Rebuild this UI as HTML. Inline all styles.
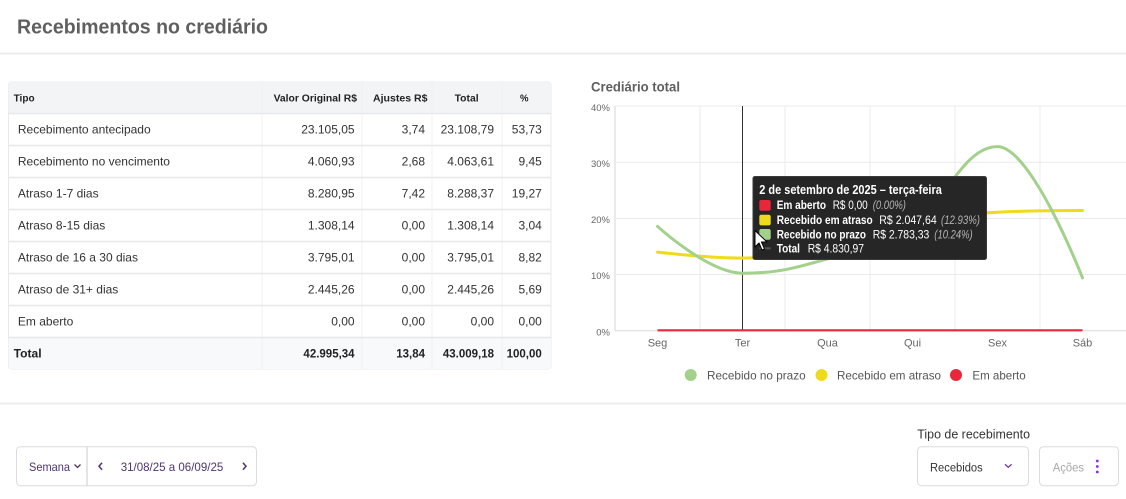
<!DOCTYPE html>
<html><head><meta charset="utf-8"><style>
html,body{margin:0;padding:0;background:#fff;}
svg{display:block;}
text{font-family:"Liberation Sans",Arial,sans-serif;}
</style></head><body>
<svg width="1126" height="499" viewBox="0 0 1126 499" xmlns="http://www.w3.org/2000/svg">
<rect width="1126" height="499" fill="#fff"/>
<!-- header -->
<text x="17" y="33.5" font-size="20.5" font-weight="bold" fill="#5f5f5f" textLength="251" lengthAdjust="spacingAndGlyphs">Recebimentos no crediário</text>
<rect x="0" y="52.5" width="1126" height="2" fill="#ececec"/>

<!-- table -->
<rect x="8.5" y="82" width="542.5" height="287" rx="3" fill="#fff" stroke="#e6e8eb"/>
<path d="M8.5,113.3 V85 a3,3 0 0 1 3,-3 H548 a3,3 0 0 1 3,3 V113.3 Z" fill="#f3f4f6"/>
<path d="M8.5,337.3 V366 a3,3 0 0 0 3,3 H548 a3,3 0 0 0 3,-3 V337.3 Z" fill="#f8f9fa"/>
<g stroke="#f0f0f0" stroke-width="1">
<line x1="262" y1="82" x2="262" y2="369"/><line x1="362" y1="82" x2="362" y2="369"/>
<line x1="432" y1="82" x2="432" y2="369"/><line x1="502" y1="82" x2="502" y2="369"/>
</g>
<g stroke="#e7e8ea" stroke-width="1.6">
<line x1="8.5" y1="113.5" x2="551" y2="113.5"/><line x1="8.5" y1="145.5" x2="551" y2="145.5"/>
<line x1="8.5" y1="177.5" x2="551" y2="177.5"/><line x1="8.5" y1="209.5" x2="551" y2="209.5"/>
<line x1="8.5" y1="241.5" x2="551" y2="241.5"/><line x1="8.5" y1="273.5" x2="551" y2="273.5"/>
<line x1="8.5" y1="305.5" x2="551" y2="305.5"/><line x1="8.5" y1="337.5" x2="551" y2="337.5"/>
</g>
<g font-size="10.5" font-weight="bold" fill="#222">
<text x="13.6" y="101.6" textLength="21" lengthAdjust="spacingAndGlyphs">Tipo</text>
<text x="273.6" y="101.6" textLength="83.4" lengthAdjust="spacingAndGlyphs">Valor Original R$</text>
<text x="373" y="101.6" textLength="54.5" lengthAdjust="spacingAndGlyphs">Ajustes R$</text>
<text x="454.6" y="101.6" textLength="24" lengthAdjust="spacingAndGlyphs">Total</text>
<text x="520" y="101.6" textLength="8.5" lengthAdjust="spacingAndGlyphs">%</text>
</g>
<g font-size="12" fill="#333">
<text x="17.9" y="133.6">Recebimento antecipado</text>
<text x="17.9" y="165.6">Recebimento no vencimento</text>
<text x="17.9" y="197.6">Atraso 1-7 dias</text>
<text x="17.9" y="229.6">Atraso 8-15 dias</text>
<text x="17.9" y="261.6">Atraso de 16 a 30 dias</text>
<text x="17.9" y="293.6">Atraso de 31+ dias</text>
<text x="17.9" y="325.6">Em aberto</text>
</g>
<g font-size="12" fill="#333" text-anchor="end">
<text x="354.6" y="133.6">23.105,05</text><text x="425" y="133.6">3,74</text><text x="494" y="133.6">23.108,79</text><text x="541.8" y="133.6">53,73</text>
<text x="354.6" y="165.6">4.060,93</text><text x="425" y="165.6">2,68</text><text x="494" y="165.6">4.063,61</text><text x="541.8" y="165.6">9,45</text>
<text x="354.6" y="197.6">8.280,95</text><text x="425" y="197.6">7,42</text><text x="494" y="197.6">8.288,37</text><text x="541.8" y="197.6">19,27</text>
<text x="354.6" y="229.6">1.308,14</text><text x="425" y="229.6">0,00</text><text x="494" y="229.6">1.308,14</text><text x="541.8" y="229.6">3,04</text>
<text x="354.6" y="261.6">3.795,01</text><text x="425" y="261.6">0,00</text><text x="494" y="261.6">3.795,01</text><text x="541.8" y="261.6">8,82</text>
<text x="354.6" y="293.6">2.445,26</text><text x="425" y="293.6">0,00</text><text x="494" y="293.6">2.445,26</text><text x="541.8" y="293.6">5,69</text>
<text x="354.6" y="325.6">0,00</text><text x="425" y="325.6">0,00</text><text x="494" y="325.6">0,00</text><text x="541.8" y="325.6">0,00</text>
</g>
<g font-size="11.5" font-weight="bold" fill="#222">
<text x="13.6" y="357.4" textLength="28" lengthAdjust="spacingAndGlyphs">Total</text>
<g text-anchor="end">
<text x="354.6" y="357.4">42.995,34</text><text x="425" y="357.4">13,84</text><text x="494" y="357.4">43.009,18</text><text x="541.8" y="357.4">100,00</text>
</g></g>

<!-- chart -->
<text x="591" y="91.5" font-size="13.5" font-weight="bold" fill="#5f5f5f" textLength="89" lengthAdjust="spacingAndGlyphs">Crediário total</text>
<g stroke="#ebebeb" stroke-width="1">
<line x1="615" y1="106" x2="1126" y2="106"/><line x1="615" y1="162.3" x2="1126" y2="162.3"/>
<line x1="615" y1="218.5" x2="1126" y2="218.5"/><line x1="615" y1="274.5" x2="1126" y2="274.5"/>
<line x1="700" y1="106" x2="700" y2="331"/><line x1="785" y1="106" x2="785" y2="331"/>
<line x1="870" y1="106" x2="870" y2="331"/><line x1="955" y1="106" x2="955" y2="331"/>
<line x1="1040" y1="106" x2="1040" y2="331"/>
</g>
<line x1="615" y1="106" x2="615" y2="331" stroke="#e3e3e3" stroke-width="1.5"/>
<line x1="615" y1="330.6" x2="1126" y2="330.6" stroke="#e3e3e3" stroke-width="1.5"/>
<g font-size="9.5" fill="#666" text-anchor="end">
<text x="610" y="111">40%</text><text x="610" y="167">30%</text><text x="610" y="223">20%</text><text x="610" y="279">10%</text><text x="610" y="335.5">0%</text>
</g>
<g font-size="11" fill="#666" text-anchor="middle">
<text x="657.5" y="346.7">Seg</text><text x="742.5" y="346.7">Ter</text><text x="827.5" y="346.7">Qua</text>
<text x="912.5" y="346.7">Qui</text><text x="997.5" y="346.7">Sex</text><text x="1082.5" y="346.7">Sáb</text>
</g>
<line x1="742.5" y1="106" x2="742.5" y2="331" stroke="#333" stroke-width="1"/>
<path d="M657.5,252.1 C657.5,252.1 708.5,258.1 742.5,258.1 C776.5,258.1 793.5,251.0 827.5,243.6 C861.5,236.2 878.5,227.5 912.5,221.2 C946.5,214.9 963.5,213.9 997.5,212.2 C1031.5,210.5 1082.5,210.5 1082.5,210.5" fill="none" stroke="#eedc1c" stroke-width="3" stroke-linecap="round"/>
<path d="M657.5,226.3 C657.5,226.3 708.5,273.2 742.5,273.2 C776.5,273.2 793.5,268.6 827.5,258.8 C861.5,249.0 878.5,246.4 912.5,224.0 C946.5,201.6 963.5,146.6 997.5,146.6 C1031.5,146.6 1082.5,277.9 1082.5,277.9" fill="none" stroke="#a3d18c" stroke-width="3" stroke-linecap="round"/>
<line x1="657.5" y1="330.3" x2="1082.5" y2="330.3" stroke="#e8273a" stroke-width="2.2"/>

<!-- tooltip -->
<rect x="753" y="176.5" width="233.5" height="83" rx="2" fill="#262626" stroke="#3a3a3a" stroke-width="1"/>
<text x="759.3" y="194" font-size="12.5" font-weight="bold" fill="#fff" textLength="182.5" lengthAdjust="spacingAndGlyphs">2 de setembro de 2025 – terça-feira</text>
<rect x="759.3" y="200" width="11.4" height="10.7" rx="2" fill="#e8273a"/>
<rect x="759.3" y="214.7" width="11.4" height="10.7" rx="2" fill="#eedc1c"/>
<rect x="759.3" y="229" width="11.4" height="10.7" rx="2" fill="#a3d18c"/>
<line x1="759.3" y1="248.3" x2="770.7" y2="248.3" stroke="#555" stroke-width="2"/>
<g font-size="11.5" fill="#fff">
<text x="776.7" y="209.2" font-weight="bold" textLength="49.3" lengthAdjust="spacingAndGlyphs">Em aberto</text>
<text x="832.7" y="209.2" textLength="35" lengthAdjust="spacingAndGlyphs">R$ 0,00</text>
<text x="872.7" y="209.2" fill="#b5b5b5" font-style="italic" textLength="33.3" lengthAdjust="spacingAndGlyphs">(0.00%)</text>
<text x="776.7" y="224" font-weight="bold" textLength="96" lengthAdjust="spacingAndGlyphs">Recebido em atraso</text>
<text x="879.3" y="224" textLength="57.4" lengthAdjust="spacingAndGlyphs">R$ 2.047,64</text>
<text x="941" y="224" fill="#b5b5b5" font-style="italic" textLength="39" lengthAdjust="spacingAndGlyphs">(12.93%)</text>
<text x="776.7" y="238.3" font-weight="bold" textLength="89.3" lengthAdjust="spacingAndGlyphs">Recebido no prazo</text>
<text x="872.7" y="238.3" textLength="56.6" lengthAdjust="spacingAndGlyphs">R$ 2.783,33</text>
<text x="934.3" y="238.3" fill="#b5b5b5" font-style="italic" textLength="38.4" lengthAdjust="spacingAndGlyphs">(10.24%)</text>
<text x="776.7" y="252.4" font-weight="bold" textLength="23.3" lengthAdjust="spacingAndGlyphs">Total</text>
<text x="807.7" y="252.4" textLength="56.3" lengthAdjust="spacingAndGlyphs">R$ 4.830,97</text>
</g>
<!-- cursor -->
<polygon points="755,230.5 755,247 759,243 762,250 764.5,249 761.5,242 767,242" fill="#fff" stroke="#000" stroke-width="1" stroke-linejoin="round"/>

<!-- legend -->
<circle cx="690.7" cy="375" r="6" fill="#a3d18c"/>
<circle cx="821.5" cy="375" r="6" fill="#eedc1c"/>
<circle cx="956" cy="375" r="6" fill="#e8273a"/>
<g font-size="12" fill="#555">
<text x="707" y="379.3" textLength="98.6" lengthAdjust="spacingAndGlyphs">Recebido no prazo</text>
<text x="837" y="379.3" textLength="104" lengthAdjust="spacingAndGlyphs">Recebido em atraso</text>
<text x="972.4" y="379.3" textLength="53.3" lengthAdjust="spacingAndGlyphs">Em aberto</text>
</g>

<rect x="0" y="402.5" width="1126" height="2" fill="#ececec"/>

<!-- bottom controls -->
<rect x="16.5" y="446.7" width="240" height="39" rx="4" fill="#fff" stroke="#dcdcdc"/>
<line x1="87" y1="447" x2="87" y2="485.5" stroke="#dcdcdc" stroke-width="1.5"/>
<text x="29" y="471" font-size="12" fill="#4e3470" textLength="41" lengthAdjust="spacingAndGlyphs">Semana</text>
<polyline points="74.5,464.5 77.5,467.5 80.5,464.5" fill="none" stroke="#4e3470" stroke-width="1.3"/>
<polyline points="102,462.8 99,466.3 102,469.8" fill="none" stroke="#4e3470" stroke-width="1.5"/>
<text x="120.7" y="471" font-size="12" fill="#4e3470" textLength="102.6" lengthAdjust="spacingAndGlyphs">31/08/25 a 06/09/25</text>
<polyline points="243,462.8 246,466.3 243,469.8" fill="none" stroke="#4e3470" stroke-width="1.5"/>

<text x="917.3" y="438.6" font-size="12.5" fill="#333" textLength="112.7" lengthAdjust="spacingAndGlyphs">Tipo de recebimento</text>
<rect x="917.5" y="446.7" width="111" height="39" rx="4" fill="#fff" stroke="#dcdcdc"/>
<text x="930" y="471.3" font-size="11.5" fill="#333" textLength="52.7" lengthAdjust="spacingAndGlyphs">Recebidos</text>
<polyline points="1005,464.3 1008.3,467.3 1011.6,464.3" fill="none" stroke="#6a2f9e" stroke-width="1.3"/>
<rect x="1039.5" y="446.7" width="79" height="39" rx="4" fill="#fff" stroke="#dcdcdc"/>
<text x="1052.7" y="471.3" font-size="11.5" fill="#a8a8a8" textLength="31.3" lengthAdjust="spacingAndGlyphs">Ações</text>
<circle cx="1097.3" cy="461" r="1.4" fill="#8a2be2"/>
<circle cx="1097.3" cy="466.5" r="1.4" fill="#8a2be2"/>
<circle cx="1097.3" cy="472" r="1.4" fill="#8a2be2"/>
</svg>
</body></html>
